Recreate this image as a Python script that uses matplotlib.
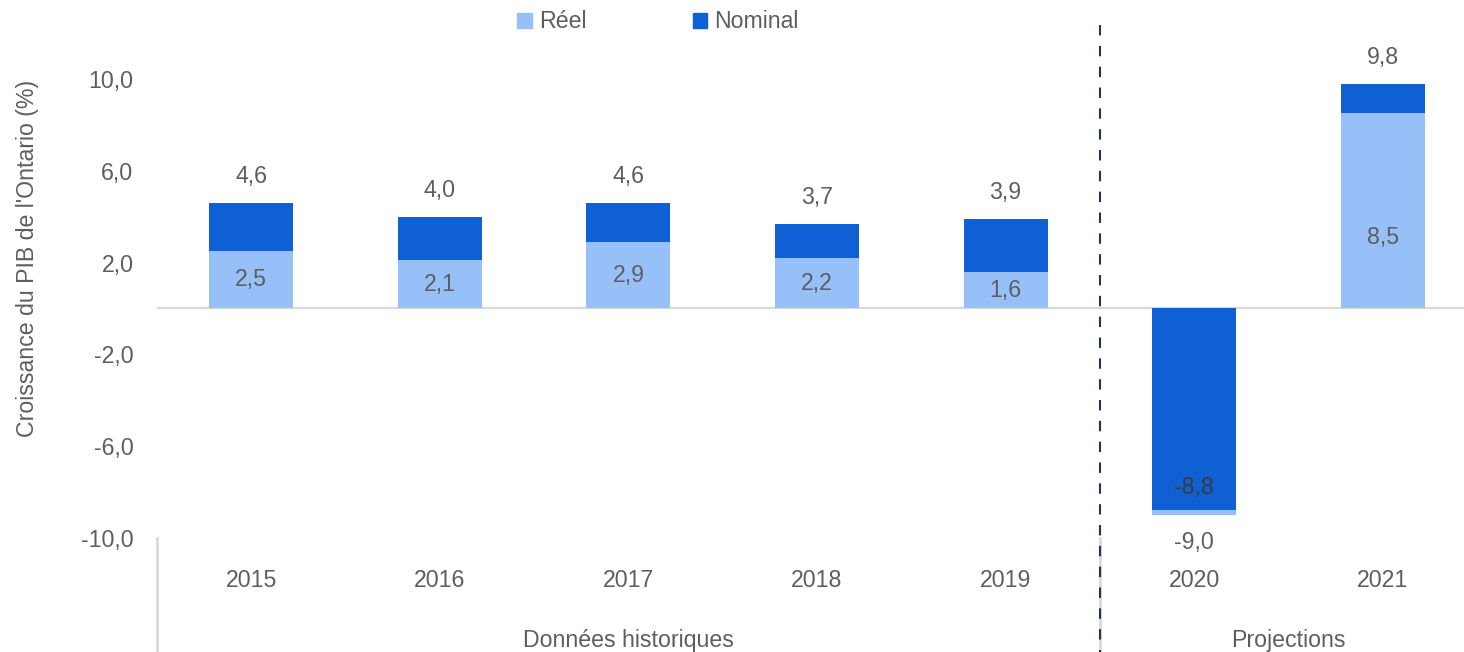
"""Croissance du PIB de l'Ontario, réel et nominal."""

import matplotlib
matplotlib.use("Agg")
import matplotlib.pyplot as plt
import matplotlib.transforms as mtransforms
from matplotlib.patches import Patch

years = ["2015", "2016", "2017", "2018", "2019", "2020", "2021"]
real = [2.5, 2.1, 2.9, 2.2, 1.6, -9.0, 8.5]
nominal = [4.6, 4.0, 4.6, 3.7, 3.9, -8.8, 9.8]
groups = ["Données historiques", "Projections"]
group_spans = [(0, 4), (5, 6)]
yticks = [10, 6, 2, -2, -6, -10]

LIGHT = "#98C0F8"
DARK = "#1060D5"
TEXT = "#5E5E5E"


def fr(v):
    return f"{v:.1f}".replace(".", ",")


plt.rcParams["font.family"] = ["Liberation Sans", "DejaVu Sans"]
plt.rcParams["font.size"] = 16.7

fig = plt.figure(figsize=(14.64, 6.52), dpi=100)
ax = fig.add_axes([157 / 1464, 114 / 652, 1320 / 1464, 513 / 652])

x = range(len(years))
w = 0.445
for i in x:
    r, n = real[i], nominal[i]
    # larger magnitude behind, smaller in front
    if abs(n) >= abs(r):
        ax.bar(i, n, w, color=DARK, zorder=2)
        ax.bar(i, r, w, color=LIGHT, zorder=3)
    else:
        ax.bar(i, r, w, color=LIGHT, zorder=2)
        ax.bar(i, n, w, color=DARK, zorder=3)

    if r >= 0:
        ly = r / 2 if r < 6 else r * 0.365
        ax.text(i, ly, fr(r), ha="center", va="center", color=TEXT, zorder=5)
        ax.text(i, n + 1.15, fr(n), ha="center", va="center", color=TEXT, zorder=5)
    else:
        ax.text(i, r - 1.2, fr(r), ha="center", va="center", color=TEXT, zorder=5)
        ax.text(i, n + 1.0, fr(n), ha="center", va="center", color="#3A3A3A", zorder=5)

ax.axhline(0, color="#D9D9D9", lw=1.6, zorder=1)

ax.set_xlim(-0.5, len(years) - 0.5)
ax.set_ylim(-10, 12.35)
ax.set_yticks(yticks)
ax.set_yticklabels([fr(v) for v in yticks], color=TEXT)
ax.tick_params(axis="y", length=0, pad=17)
ax.set_xticks([])
for s in ax.spines.values():
    s.set_visible(False)

trans = mtransforms.blended_transform_factory(ax.transData, ax.transAxes)
for i, y in enumerate(years):
    ax.text(i, -0.082, y, transform=trans, ha="center", va="center",
            color=TEXT, clip_on=False)

for name, (a, b) in zip(groups, group_spans):
    ax.text((a + b) / 2, -0.2, name, transform=trans, ha="center",
            va="center", color=TEXT, clip_on=False)
    ax.plot([a - 0.5, a - 0.5], [0, -0.23], transform=trans, color="#D9D9D9",
            lw=2, clip_on=False)

# separator between history and projections
ax.plot([4.5, 4.5], [1.0, -0.23], transform=trans, color="#1F3556", lw=1.5,
        ls=(0, (5, 5)), clip_on=False, zorder=6)

fig.text(28 / 1464, 1 - 258 / 652, "Croissance du PIB de l'Ontario (%)",
         rotation=90, ha="center", va="center", color=TEXT)

handles = [Patch(color=LIGHT, label="Réel"), Patch(color=DARK, label="Nominal")]
fig.legend(handles=handles, loc="center", bbox_to_anchor=(658 / 1464, 1 - 22 / 652),
           ncol=2, frameon=False, handlelength=0.62, handleheight=0.62,
           handletextpad=0.3, columnspacing=4.6, labelcolor=TEXT,
           borderpad=0, borderaxespad=0)

fig.savefig("out.png", dpi=100)
